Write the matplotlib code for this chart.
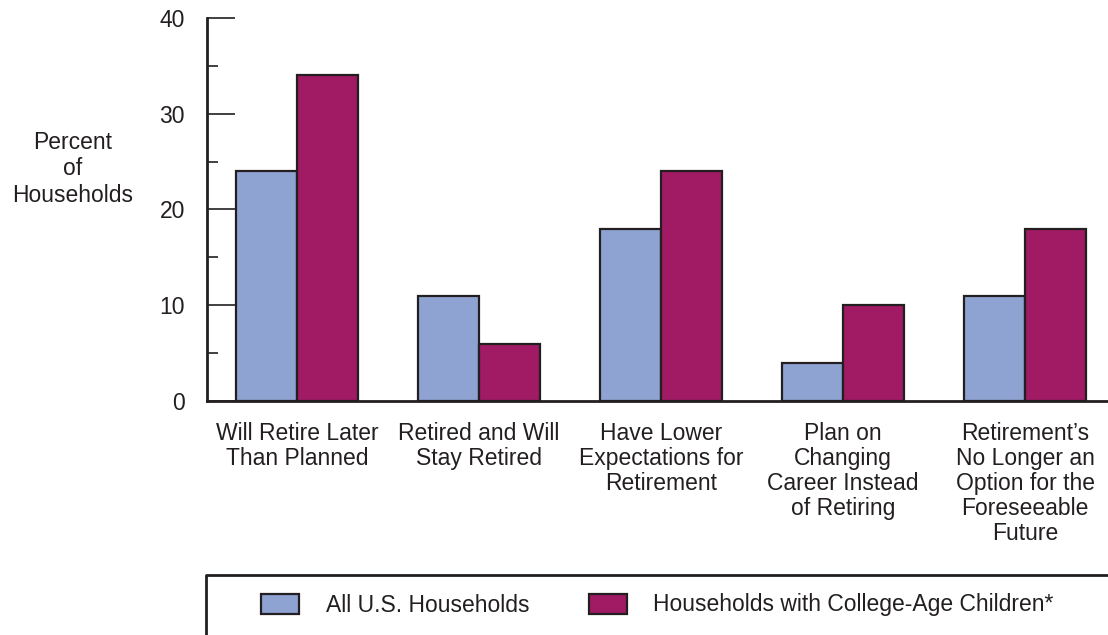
import matplotlib
matplotlib.use('Agg')
import matplotlib.pyplot as plt
from matplotlib.lines import Line2D
import numpy as np

plt.rcParams['font.family'] = ['Liberation Sans', 'DejaVu Sans']

categories = ["Will Retire Later\nThan Planned",
              "Retired and Will\nStay Retired",
              "Have Lower\nExpectations for\nRetirement",
              "Plan on\nChanging\nCareer Instead\nof Retiring",
              "Retirement\u2019s\nNo Longer an\nOption for the\nForeseeable\nFuture"]
all_households = [24, 11, 18, 4, 11]
college_age = [34, 6, 24, 10, 18]
series_names = ["All U.S. Households", "Households with College-Age Children*"]

blue = '#8fa3d2'
magenta = '#a01a64'
ink = '#231f20'
fs = 16.5

W, H = 1108, 635
fig = plt.figure(figsize=(W / 100, H / 100), dpi=100)
ax = fig.add_axes([207 / W, 1 - 401 / H, 1 - 207 / W, (401 - 18) / H])

x = np.arange(len(categories))
w = 0.335
b1 = ax.bar(x - w / 2, all_households, w, color=blue, edgecolor=ink, linewidth=1.6,
            label=series_names[0])
b2 = ax.bar(x + w / 2, college_age, w, color=magenta, edgecolor=ink, linewidth=1.6,
            label=series_names[1])

ax.set_xlim(-0.495, 4.455)
ax.set_ylim(0, 40)
ax.set_yticks([0, 10, 20, 30, 40])
ax.set_yticks([5, 15, 25, 35], minor=True)
ax.set_xticks(x)
ax.set_xticklabels(categories, fontsize=fs, color=ink, linespacing=1.12)
ax.tick_params(axis='x', length=0, pad=15)
ax.tick_params(axis='y', which='major', direction='in', length=20, width=1.2,
               color=ink, labelsize=fs, labelcolor=ink, pad=16)
ax.tick_params(axis='y', which='minor', direction='in', length=8, width=1.2, color=ink)
for s in ['top', 'right']:
    ax.spines[s].set_visible(False)
for s in ['left', 'bottom']:
    ax.spines[s].set_linewidth(2)
    ax.spines[s].set_color(ink)

fig.text(73 / W, 1 - 169 / H, "Percent\nof\nHouseholds", ha='center', va='center',
         fontsize=fs, color=ink, linespacing=1.2)

# legend box (left and top edges only visible)
fig.add_artist(Line2D([206 / W, 206 / W, 1], [0, 1 - 575 / H, 1 - 575 / H],
                      transform=fig.transFigure, color=ink, linewidth=2))
fig.legend(handles=[b1, b2], loc='center left', bbox_to_anchor=(250 / W, 1 - 605 / H),
           ncol=2, frameon=False, fontsize=fs, borderpad=0, handlelength=1.65,
           handleheight=0.96, handletextpad=1.15, columnspacing=2.6, labelcolor=ink)

fig.savefig('out.png', dpi=100)
